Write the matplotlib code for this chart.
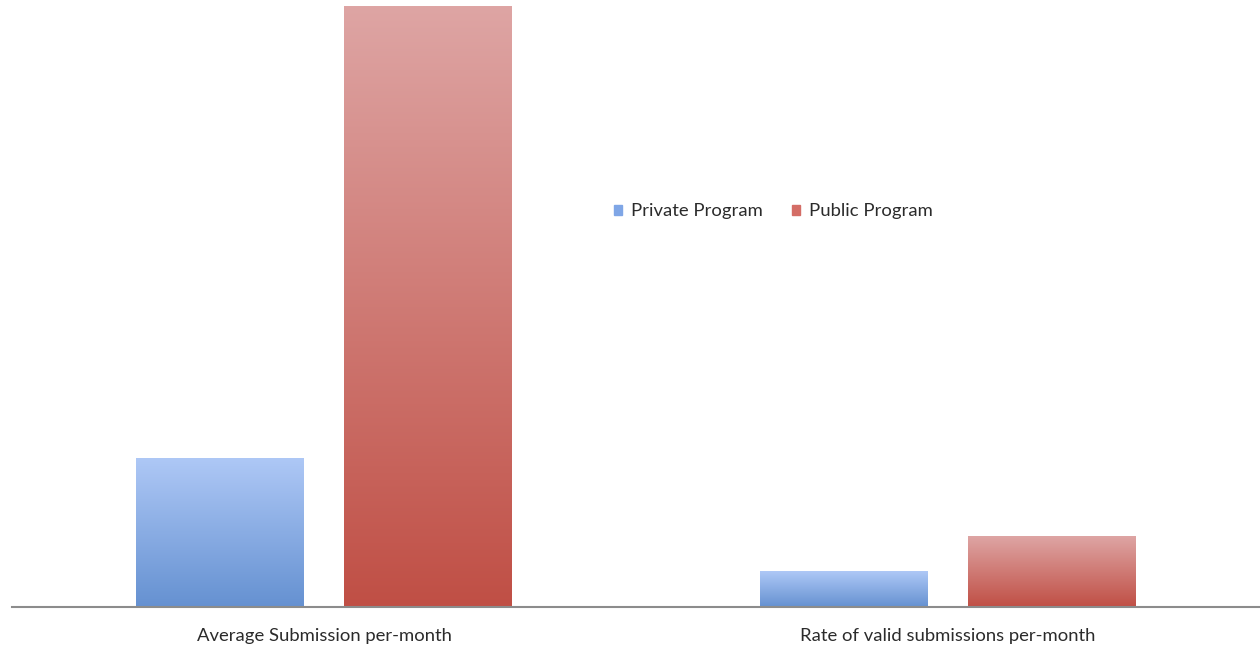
import numpy as np
import matplotlib.pyplot as plt
from matplotlib.colors import LinearSegmentedColormap

plt.rcParams['font.family'] = ['Lato', 'DejaVu Sans']

# data
categories = ['Average Submission per-month', 'Rate of valid submissions per-month']
series_names = ['Private Program', 'Public Program']
private_vals = [149, 36]
public_vals = [601, 71]

# gradient colours (top, bottom) for each series
grad_colors = {
    'Private Program': ['#aec8f6', '#6591d1'],
    'Public Program': ['#dea5a4', '#c04f45'],
}
legend_colors = {'Private Program': '#7fa6e6', 'Public Program': '#d46d66'}

fig = plt.figure(figsize=(12.6, 6.47), dpi=100)
ax = fig.add_axes([12 / 1260, 40 / 647, 1248 / 1260, 607 / 647])

x = np.arange(len(categories))
width = 0.268
offset = 1 / 6

def gradient_bars(xpos, vals, name):
    cmap = LinearSegmentedColormap.from_list(name, grad_colors[name][::-1])
    bars = ax.bar(xpos, vals, width, color='none', edgecolor='none', label=name)
    grad = np.linspace(0, 1, 256).reshape(-1, 1)
    for b in bars:
        x0, y0 = b.get_x(), b.get_y()
        ax.imshow(grad, cmap=cmap, origin='lower', aspect='auto',
                  extent=[x0, x0 + b.get_width(), y0, y0 + b.get_height()],
                  zorder=2)
    return bars

gradient_bars(x - offset, private_vals, 'Private Program')
gradient_bars(x + offset, public_vals, 'Public Program')

ax.set_xlim(-0.5, 1.5)
ax.set_ylim(0, 607)

for s in ['top', 'left', 'right']:
    ax.spines[s].set_visible(False)
ax.spines['bottom'].set_color('#8c8c8c')
ax.spines['bottom'].set_linewidth(1.5)
ax.set_yticks([])
ax.set_xticks(x)
ax.set_xticklabels(categories, fontsize=13.3, color='#2b2b2b')
ax.tick_params(axis='x', length=0, pad=15)

handles = [plt.Rectangle((0, 0), 1, 1, color=legend_colors[n]) for n in series_names]
ax.legend(handles, series_names, loc='center', bbox_to_anchor=(0.61, 0.652),
          ncol=2, frameon=False, fontsize=13.3, handlelength=0.45, handleheight=0.45,
          handletextpad=0.45, columnspacing=1.6, labelcolor='#2b2b2b')

fig.savefig('out.png', dpi=100)
